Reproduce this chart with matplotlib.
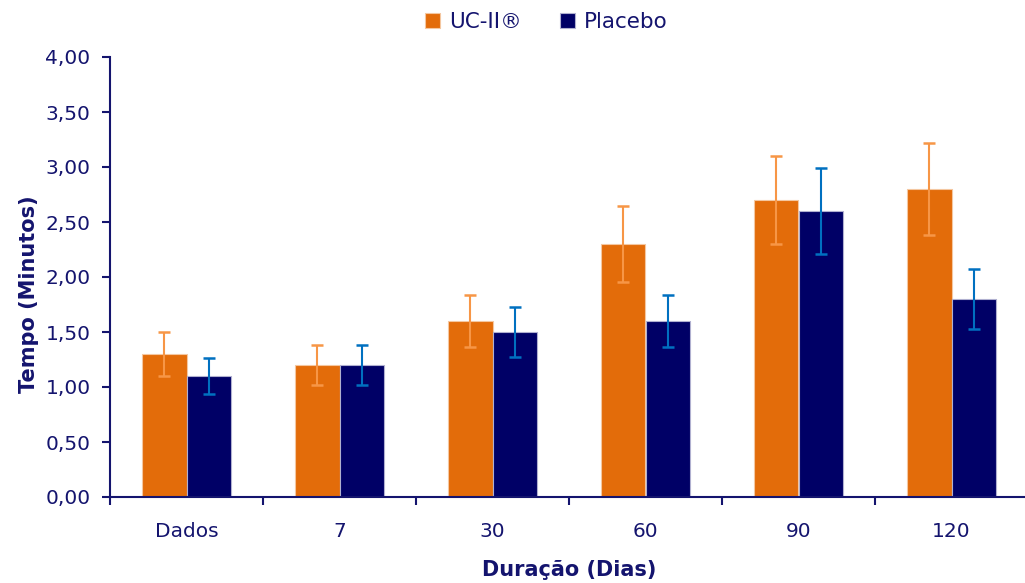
import matplotlib.pyplot as plt
import numpy as np
from matplotlib.ticker import FixedLocator

# dados
categorias = ["Dados", "7", "30", "60", "90", "120"]
uc2 = [1.30, 1.20, 1.60, 2.30, 2.70, 2.80]
uc2_err = [0.20, 0.18, 0.24, 0.345, 0.40, 0.42]
placebo = [1.10, 1.20, 1.50, 1.60, 2.60, 1.80]
placebo_err = [0.16, 0.18, 0.23, 0.24, 0.39, 0.27]

navy = "#14146E"
x = np.arange(len(categorias))
w = 0.288

fig = plt.figure(figsize=(10.25, 5.83), dpi=100)
ax = fig.add_axes([110/1025, 1 - 497/583, 918/1025, 440/583])

ax.bar(x - w/2, uc2, w, color="#E36C0A", edgecolor="#F4C7A0", linewidth=0.8,
       label="UC-II®", zorder=2)
ax.bar(x + w/2, placebo, w, color="#000066", edgecolor="#B0B0D0", linewidth=0.8,
       label="Placebo", zorder=2)
ax.errorbar(x - w/2, uc2, yerr=uc2_err, fmt="none", ecolor="#F79646",
            elinewidth=1.5, capsize=4.5, capthick=1.8, zorder=3)
ax.errorbar(x + w/2, placebo, yerr=placebo_err, fmt="none", ecolor="#0070C0",
            elinewidth=1.5, capsize=4.5, capthick=1.8, zorder=3)

ax.set_xlim(-0.5, 5.5)
ax.set_ylim(0, 4)
ax.set_yticks(np.arange(0, 4.01, 0.5))
ax.set_yticklabels([f"{v:.2f}".replace(".", ",") for v in np.arange(0, 4.01, 0.5)])
ax.set_xticks(x)
ax.set_xticklabels(categorias)
ax.xaxis.set_minor_locator(FixedLocator(np.arange(-0.5, 6, 1)))
ax.tick_params(axis="x", which="major", length=0, pad=18, labelsize=14.5, labelcolor=navy)
ax.tick_params(axis="x", which="minor", length=6, width=1.5, color=navy, direction="out")
ax.tick_params(axis="y", length=6, width=1.5, color=navy, labelsize=14.5, labelcolor=navy, pad=8)

for s in ["top", "right"]:
    ax.spines[s].set_visible(False)
for s in ["left", "bottom"]:
    ax.spines[s].set_color(navy)
    ax.spines[s].set_linewidth(1.5)

ax.set_ylabel("Tempo (Minutos)", fontsize=15, fontweight="bold", color=navy)
ax.yaxis.set_label_coords(-0.077, 0.46)
ax.set_xlabel("Duração (Dias)", fontsize=15, fontweight="bold", color=navy, labelpad=14)

leg = fig.legend(loc="upper center", bbox_to_anchor=(0.533, 1.012), ncol=2, frameon=False,
                 fontsize=15.5, handlelength=0.7, handleheight=0.7, handletextpad=0.4,
                 columnspacing=1.8)
for t in leg.get_texts():
    t.set_color(navy)

fig.savefig("out.png", dpi=100)
